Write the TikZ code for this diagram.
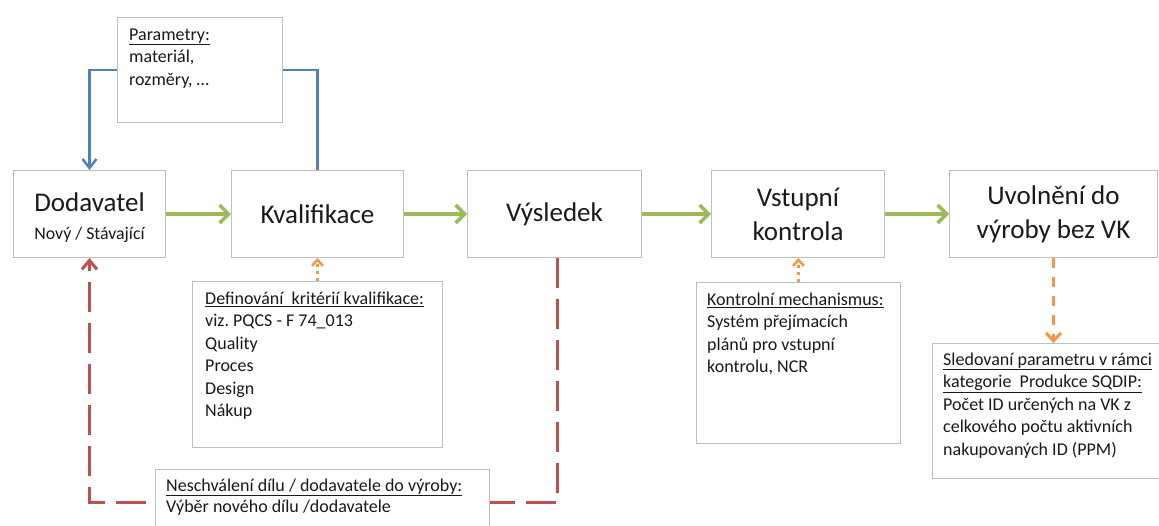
\documentclass[tikz,border=0pt]{standalone}
\usepackage{fontspec}
\setmainfont{Carlito}
\usetikzlibrary{arrows.meta}
\definecolor{cgreen}{HTML}{9BBB59}
\definecolor{cblue}{HTML}{4F81BD}
\definecolor{cred}{HTML}{C0504D}
\definecolor{corange}{HTML}{F79646}
\definecolor{cgray}{HTML}{BFBFBF}
\definecolor{ctext}{HTML}{1A1A1A}
\frenchspacing
\begin{document}
\begin{tikzpicture}[x=1pt,y=-1pt,
  box/.style={draw=cgray, line width=1pt, fill=white, anchor=north west, inner sep=0pt, text=ctext},
  mainbox/.style={box, font=\fontsize{27}{34}\selectfont, align=center},
  notetext/.style={anchor=north west, inner sep=0pt, align=left, text=ctext, font=\fontsize{18}{22.5}\selectfont},
  greenarrow/.style={draw=cgreen, line width=3.5pt, -{Straight Barb[length=9pt,width=18pt,line width=3.5pt]}},
  bluearrow/.style={draw=cblue, line width=2.5pt},
  redline/.style={draw=cred, line width=3pt, dash pattern=on 30pt off 11pt, -{Straight Barb[length=9pt,width=15pt,line width=3pt]}},
  dottedarrow/.style={draw=corange, line width=2.5pt, dash pattern=on 3pt off 4pt, -{Straight Barb[length=6pt,width=11pt,line width=2.5pt]}},
  dashedarrow/.style={draw=corange, line width=3pt, dash pattern=on 10pt off 9pt, -{Straight Barb[length=8pt,width=15pt,line width=3pt]}}
]
\clip (0,0) rectangle (1159,525);
\fill[white] (0,0) rectangle (1159,525);

% main process boxes
\node[mainbox, minimum width=152pt, minimum height=87pt] (dod) at (13,170)
  {\rule{0pt}{26pt}Dodavatel\\[-6pt]{\fontsize{17.8}{20}\selectfont Nový / Stávající}};
\node[mainbox, minimum width=172pt, minimum height=87pt] (kval) at (231,170) {Kvalifikace};
\node[mainbox, minimum width=174pt, minimum height=87pt] (vys) at (467,170) {Výsledek};
\node[mainbox, minimum width=173pt, minimum height=87pt] (vst) at (711,170) {Vstupní\\kontrola};
\node[mainbox, minimum width=208pt, minimum height=87pt] (uvol) at (949,170) {Uvolnění do\\výroby bez VK};

% red feedback path (drawn before the note box that covers it)
\draw[redline] ([xshift=3pt]vys.south) |- ([yshift=-244pt]dod.south) -- (dod.south);

% note boxes
\node[box, minimum width=165pt, minimum height=105pt] (par) at (117,17) {};
\node[notetext] (partext) at (129,24.3) {\strut\underline{Parametry:}\\materiál,\\rozměry, …};

\node[box, minimum width=250pt, minimum height=166pt] (def) at (192,281) {};
\node[notetext] (deftext) at (205,288.3) {\strut\underline{Definování\ \ kritérií kvalifikace:}\\viz. PQCS - F 74\_013\\Quality\\Proces\\Design\\Nákup};

\node[box, minimum width=204pt, minimum height=161pt] (kon) at (696,282) {};
\node[notetext] (kontext) at (707,289.3) {\strut\underline{Kontrolní mechanismus:}\\Systém přejímacích\\plánů pro vstupní\\kontrolu, NCR};

\node[box, minimum width=240pt, minimum height=135pt] (sled) at (932,343) {};
\node[notetext] (sledtext) at (943,349.3) {\strut\underline{Sledovaní parametru v rámci}\\\underline{kategorie\ \ Produkce SQDIP:}\\Počet ID určených na VK z\\celkového počtu aktivních\\nakupovaných ID (PPM)};

\node[box, minimum width=334pt, minimum height=80pt] (nes) at (155,469) {};
\node[notetext, font=\fontsize{18}{21}\selectfont] (nestext) at (166,476.3) {\strut\underline{Neschválení dílu / dodavatele do výroby:}\\Výběr nového dílu /dodavatele};

% green main flow
\draw[greenarrow] (dod) -- (kval);
\draw[greenarrow] (kval) -- (vys);
\draw[greenarrow] (vys) -- (vst);
\draw[greenarrow] (vst) -- (uvol);

% blue parameter loop
\draw[bluearrow, -{Straight Barb[length=9pt,width=14pt,line width=2.5pt]}] (par.west) -| (dod.north);
\draw[bluearrow] (par.east) -| (kval.north);

% orange connectors
\draw[dottedarrow] (def.north) -- (kval.south);
\draw[dottedarrow] (kon.north) -- (kon.north |- vst.south);
\draw[dashedarrow] (uvol.south) -- (uvol.south |- sled.north);
\end{tikzpicture}
\end{document}
